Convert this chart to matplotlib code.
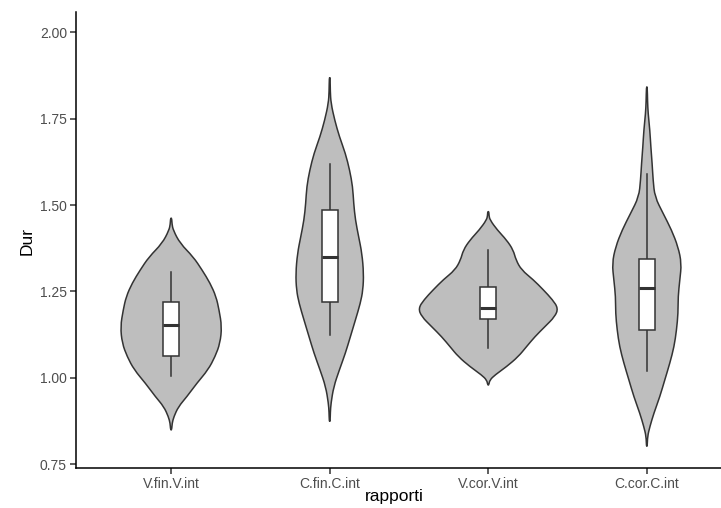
import numpy as np
import matplotlib
matplotlib.use("Agg")
from matplotlib import pyplot as plt
from matplotlib.path import Path
from matplotlib.patches import PathPatch

plt.rcParams['font.family'] = ['Liberation Sans', 'DejaVu Sans']

rapporti = ['V.fin.V.int', 'C.fin.C.int', 'V.cor.V.int', 'C.cor.C.int']

# violin outlines: Dur levels and scaled density (1.0 = widest violin)
dur_vfin = [1.462, 1.445, 1.427, 1.389, 1.350, 1.312, 1.274, 1.235, 1.196, 1.148,
            1.100, 1.061, 1.023, 0.984, 0.945, 0.916, 0.887, 0.868, 0.849]
dens_vfin = [0.008, 0.012, 0.03, 0.126, 0.31, 0.434, 0.546, 0.63, 0.672, 0.71,
             0.686, 0.616, 0.518, 0.36, 0.22, 0.102, 0.038, 0.014, 0.008]

dur_cfin = [1.870, 1.830, 1.795, 1.746, 1.698, 1.650, 1.601, 1.553, 1.505, 1.457,
            1.408, 1.360, 1.302, 1.254, 1.216, 1.167, 1.119, 1.071, 1.023, 0.974,
            0.926, 0.900, 0.873]
dens_cfin = [0.006, 0.008, 0.018, 0.07, 0.136, 0.22, 0.28, 0.322, 0.336, 0.36,
             0.406, 0.452, 0.476, 0.466, 0.43, 0.36, 0.29, 0.22, 0.136, 0.056,
             0.018, 0.009, 0.006]

dur_vcor = [1.481, 1.470, 1.457, 1.428, 1.399, 1.370, 1.341, 1.312, 1.284, 1.255,
            1.226, 1.201, 1.177, 1.148, 1.119, 1.090, 1.061, 1.032, 1.008, 0.993, 0.979]
dens_vcor = [0.008, 0.01, 0.024, 0.126, 0.256, 0.35, 0.388, 0.466, 0.63, 0.77,
             0.90, 0.98, 0.934, 0.794, 0.654, 0.536, 0.42, 0.256, 0.094, 0.02, 0.008]

dur_ccor = [1.843, 1.800, 1.766, 1.717, 1.669, 1.621, 1.572, 1.524, 1.476, 1.428,
            1.379, 1.331, 1.283, 1.235, 1.187, 1.138, 1.090, 1.042, 0.994, 0.945,
            0.897, 0.858, 0.830, 0.801]
dens_ccor = [0.006, 0.01, 0.018, 0.042, 0.056, 0.074, 0.088, 0.112, 0.228, 0.346,
             0.438, 0.486, 0.462, 0.438, 0.438, 0.416, 0.382, 0.322, 0.252, 0.182,
             0.098, 0.042, 0.01, 0.006]

# boxplot stats: lower whisker, q1, median, q3, upper whisker
box_lo = [1.005, 1.124, 1.087, 1.020]
box_q1 = [1.063, 1.220, 1.170, 1.138]
box_med = [1.154, 1.351, 1.201, 1.259]
box_q3 = [1.219, 1.486, 1.262, 1.344]
box_hi = [1.305, 1.618, 1.370, 1.590]

violins = [(dur_vfin, dens_vfin), (dur_cfin, dens_cfin),
           (dur_vcor, dens_vcor), (dur_ccor, dens_ccor)]


def smooth_outline(xs, ys):
    # closed quadratic-bezier path through the midpoints of the outline
    pts = np.column_stack([xs, ys])
    n = len(pts)
    mids = (pts + np.roll(pts, -1, axis=0)) / 2
    verts = [mids[-1]]
    codes = [Path.MOVETO]
    for i in range(n):
        verts += [pts[i], mids[i]]
        codes += [Path.CURVE3, Path.CURVE3]
    verts.append(mids[-1])
    codes.append(Path.CLOSEPOLY)
    return Path(verts, codes)


fig = plt.figure(figsize=(7.21, 5.08), dpi=100)
ax = fig.add_axes([0.1054, 0.0781, 0.9237, 0.8988])

edge = '#333333'
for i, (dur, dens) in enumerate(violins):
    x0 = i + 1
    y = np.array(dur)
    hw = np.array(dens) * 0.45
    xs = np.concatenate([x0 - hw, (x0 + hw)[::-1]])
    ys = np.concatenate([y, y[::-1]])
    ax.add_patch(PathPatch(smooth_outline(xs, ys), facecolor='#BEBEBE',
                           edgecolor=edge, lw=1.1, zorder=1))

    # box and whiskers
    w = 0.05
    ax.plot([x0, x0], [box_lo[i], box_q1[i]], color=edge, lw=1.1, zorder=3)
    ax.plot([x0, x0], [box_q3[i], box_hi[i]], color=edge, lw=1.1, zorder=3)
    rect = plt.Rectangle((x0 - w, box_q1[i]), 2 * w, box_q3[i] - box_q1[i],
                         facecolor='white', edgecolor=edge, lw=1.1, zorder=3)
    ax.add_patch(rect)
    ax.plot([x0 - w, x0 + w], [box_med[i], box_med[i]], color=edge, lw=2.2,
            zorder=4, solid_capstyle='butt')

ax.set_xlim(0.4, 4.6)
ax.set_ylim(0.7376, 2.06)
ax.set_xticks([1, 2, 3, 4])
ax.set_xticklabels(rapporti)
ax.set_yticks([0.75, 1.00, 1.25, 1.50, 1.75, 2.00])
ax.set_yticklabels(['0.75', '1.00', '1.25', '1.50', '1.75', '2.00'])

for s in ['top', 'right']:
    ax.spines[s].set_visible(False)
for s in ['left', 'bottom']:
    ax.spines[s].set_color('black')
    ax.spines[s].set_linewidth(1.1)
ax.tick_params(axis='both', colors='#333333', labelcolor='#4D4D4D',
               labelsize=10, length=4, width=1.1, pad=2.5)

fig.text(394.5 / 721, 1 - 497 / 508, 'rapporti', fontsize=12.5, color='black',
         ha='center', va='center')
fig.text(27 / 721, 1 - 241 / 508, 'Dur', fontsize=12.5, color='black',
         ha='center', va='center', rotation=90)

fig.savefig('out.png', dpi=100)
